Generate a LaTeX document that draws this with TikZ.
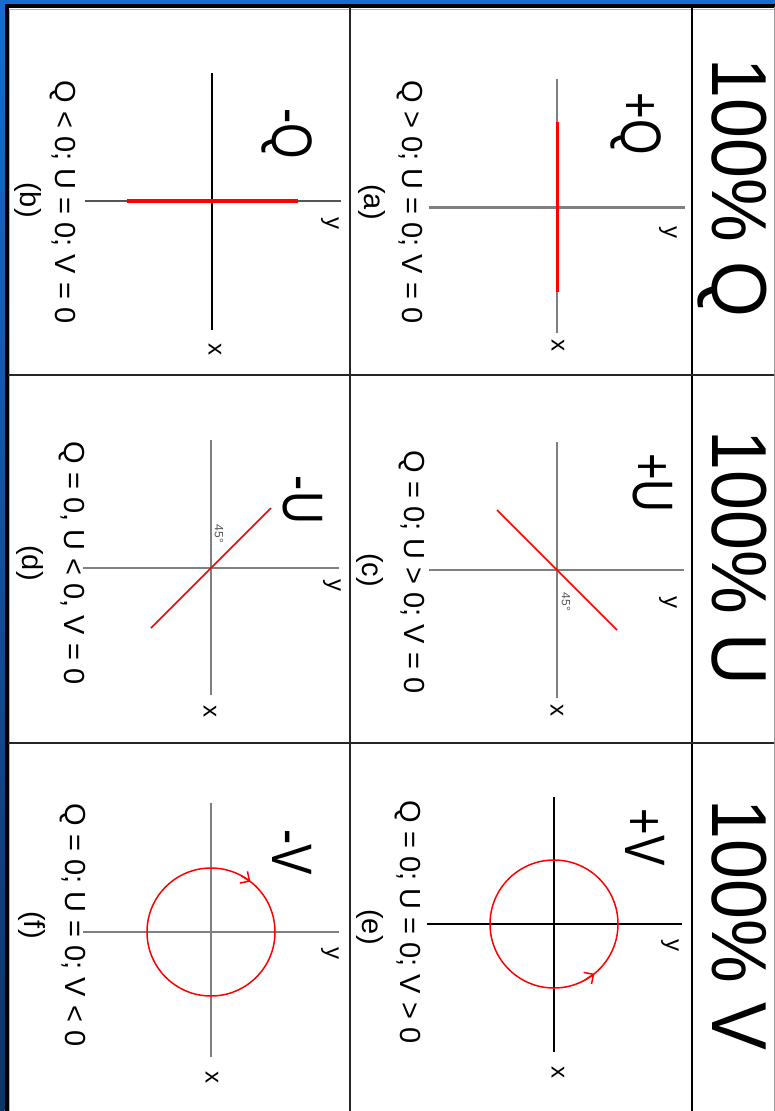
\documentclass[tikz,border=0pt]{standalone}
\usepackage{fontspec}
\setmainfont{Liberation Sans}
\usetikzlibrary{arrows.meta}
\definecolor{axgray}{HTML}{808080}
\definecolor{axdark}{HTML}{555555}
\definecolor{bluetop}{HTML}{1A6BD0}
\definecolor{bluebot}{HTML}{0A3566}
\begin{document}
\begin{tikzpicture}[x=1pt,y=-1pt,
  hdr/.style={rotate=-90, anchor=base, inner sep=0pt, font=\fontsize{78}{80}\selectfont, xscale=0.92},
  big/.style={rotate=-90, anchor=base, inner sep=0pt, font=\fontsize{57}{60}\selectfont, xscale=0.8},
  cond/.style={rotate=-90, inner sep=0pt, font=\fontsize{29}{30}\selectfont},
  axl/.style={rotate=-90, inner sep=0pt, font=\fontsize{24}{24}\selectfont},
  deg/.style={rotate=-90, inner sep=0pt, font=\fontsize{12}{12}\selectfont, text=axdark},
  grid/.style={line width=2pt, black!85},
  axg/.style={line width=2pt, axgray},
  axk/.style={line width=1.5pt, black},
  hot/.style={line width=1.5pt, red},
  hotthick/.style={line width=4pt, red},
  barb/.style={line width=1.5pt, red, -{Straight Barb[length=7pt,width=14pt]}}
]
\useasboundingbox (0,0) rectangle (775,1111);
% background frame
\fill[bluetop] (0,0) rectangle (775,4);
\shade[top color=bluetop, bottom color=bluebot] (0,0) rectangle (4.5,1111);
\fill[white] (4.5,4) rectangle (775,1111);
% table lines
\draw[line width=4pt, black] (4.5,5.5) -- (775,5.5);
\draw[line width=4pt, black] (6.5,4) -- (6.5,1111);
\draw[line width=1pt, black!30] (9,9) -- (775,9);
\draw[line width=1pt, black!30] (9.5,9) -- (9.5,1111);
\draw[grid] (350,7) -- (350,1111);
\draw[line width=2.5pt, black] (692,7) -- (692,1111);
\draw[grid] (8,375) -- (775,375);
\draw[grid] (8,743) -- (775,743);
\draw[line width=1pt, black!40] (774,7) -- (774,1111);

% headers
\node[hdr] (hQ) at (712,188) {100\% Q};
\node[hdr] (hU) at (712,558) {100\% U};
\node[hdr] (hV) at (712,925) {100\% V};

% ---------- cell (a) ----------
\coordinate (ca) at (557,207);
\draw[axg] (557,79) -- (557,333);
\draw[line width=3pt, axgray] (429,207) -- (685,207);
\draw[line width=3pt, red] (557,122) -- (557,292);
\node[axl] (ya) at (668,232) {y};
\node[axl] (xa) at (558,345) {x};
\node[big] (la) at (621,124) {+Q};
\node[cond] (qa) at (410,202) {Q > 0; U = 0; V = 0};
\node[cond] (na) at (372,202) {(a)};

% ---------- cell (b) ----------
\coordinate (cb) at (212,201);
\draw[axk] (212,73) -- (212,330);
\draw[line width=2pt, axdark] (85,201) -- (341,201);
\draw[hotthick] (127,201) -- (298,201);
\node[axl] (yb) at (330,223) {y};
\node[axl] (xb) at (215,349) {x};
\node[big] (lb) at (272,134) {-Q};
\node[cond] (qb) at (63,202) {Q < 0; U = 0; V = 0};
\node[cond] (nb) at (28,200) {(b)};

% ---------- cell (c) ----------
\coordinate (cc) at (557,570);
\draw[axg] (557,442) -- (557,698);
\draw[line width=2.5pt, axgray] (429,570) -- (684,570);
\draw[hot] (497,510) -- (617,630);
\node[deg] (dc) at (566,602) {45°};
\node[axl] (yc) at (668,602) {y};
\node[axl] (xc) at (557,710) {x};
\node[big] (lc) at (633,483) {+U};
\node[cond] (qc) at (412,572) {Q = 0; U > 0; V = 0};
\node[cond] (nc) at (370,570) {(c)};

% ---------- cell (d) ----------
\coordinate (cd) at (211,568);
\draw[axg] (211,440) -- (211,695);
\draw[line width=2.5pt, axgray] (83,568) -- (339,568);
\draw[hot] (151,628) -- (271,508);
\node[deg] (dd) at (219,534) {45°};
\node[axl] (yd) at (332,585) {y};
\node[axl] (xd) at (210,711) {x};
\node[big] (ld) at (283,500) {-U};
\node[cond] (qd) at (72,563) {Q = 0, U < 0, V = 0};
\node[cond] (nd) at (30,563) {(d)};

% ---------- cell (e) ----------
\coordinate (ce) at (554,924);
\draw[axk] (554,797) -- (554,1052);
\draw[axk] (427,924) -- (682,924);
\draw[hot] (ce) circle[radius=64];
\coordinate (e1) at (585.0,980.0);
\coordinate (e2) at (594.3,973.7);
\draw[barb] (e1) -- (e2);
\node[axl] (ye) at (670,945) {y};
\node[axl] (xe) at (558,1072) {x};
\node[big] (le) at (625,837) {+V};
\node[cond] (qe) at (408,922) {Q = 0; U = 0; V > 0};
\node[cond] (ne) at (370,927) {(e)};

% ---------- cell (f) ----------
\coordinate (cf) at (211,932);
\draw[axg] (211,803) -- (211,1057);
\draw[line width=2.5pt, axgray] (83,932) -- (339,932);
\draw[hot] (cf) circle[radius=64];
\coordinate (f1) at (241.0,875.5);
\coordinate (f2) at (250.4,881.6);
\draw[barb] (f1) -- (f2);
\node[axl] (yf) at (330,953) {y};
\node[axl] (xf) at (212,1077) {x};
\node[big] (lf) at (272,852) {-V};
\node[cond] (qf) at (73,925) {Q = 0; U = 0; V < 0};
\node[cond] (nf) at (32,925) {(f)};
\end{tikzpicture}
\end{document}
